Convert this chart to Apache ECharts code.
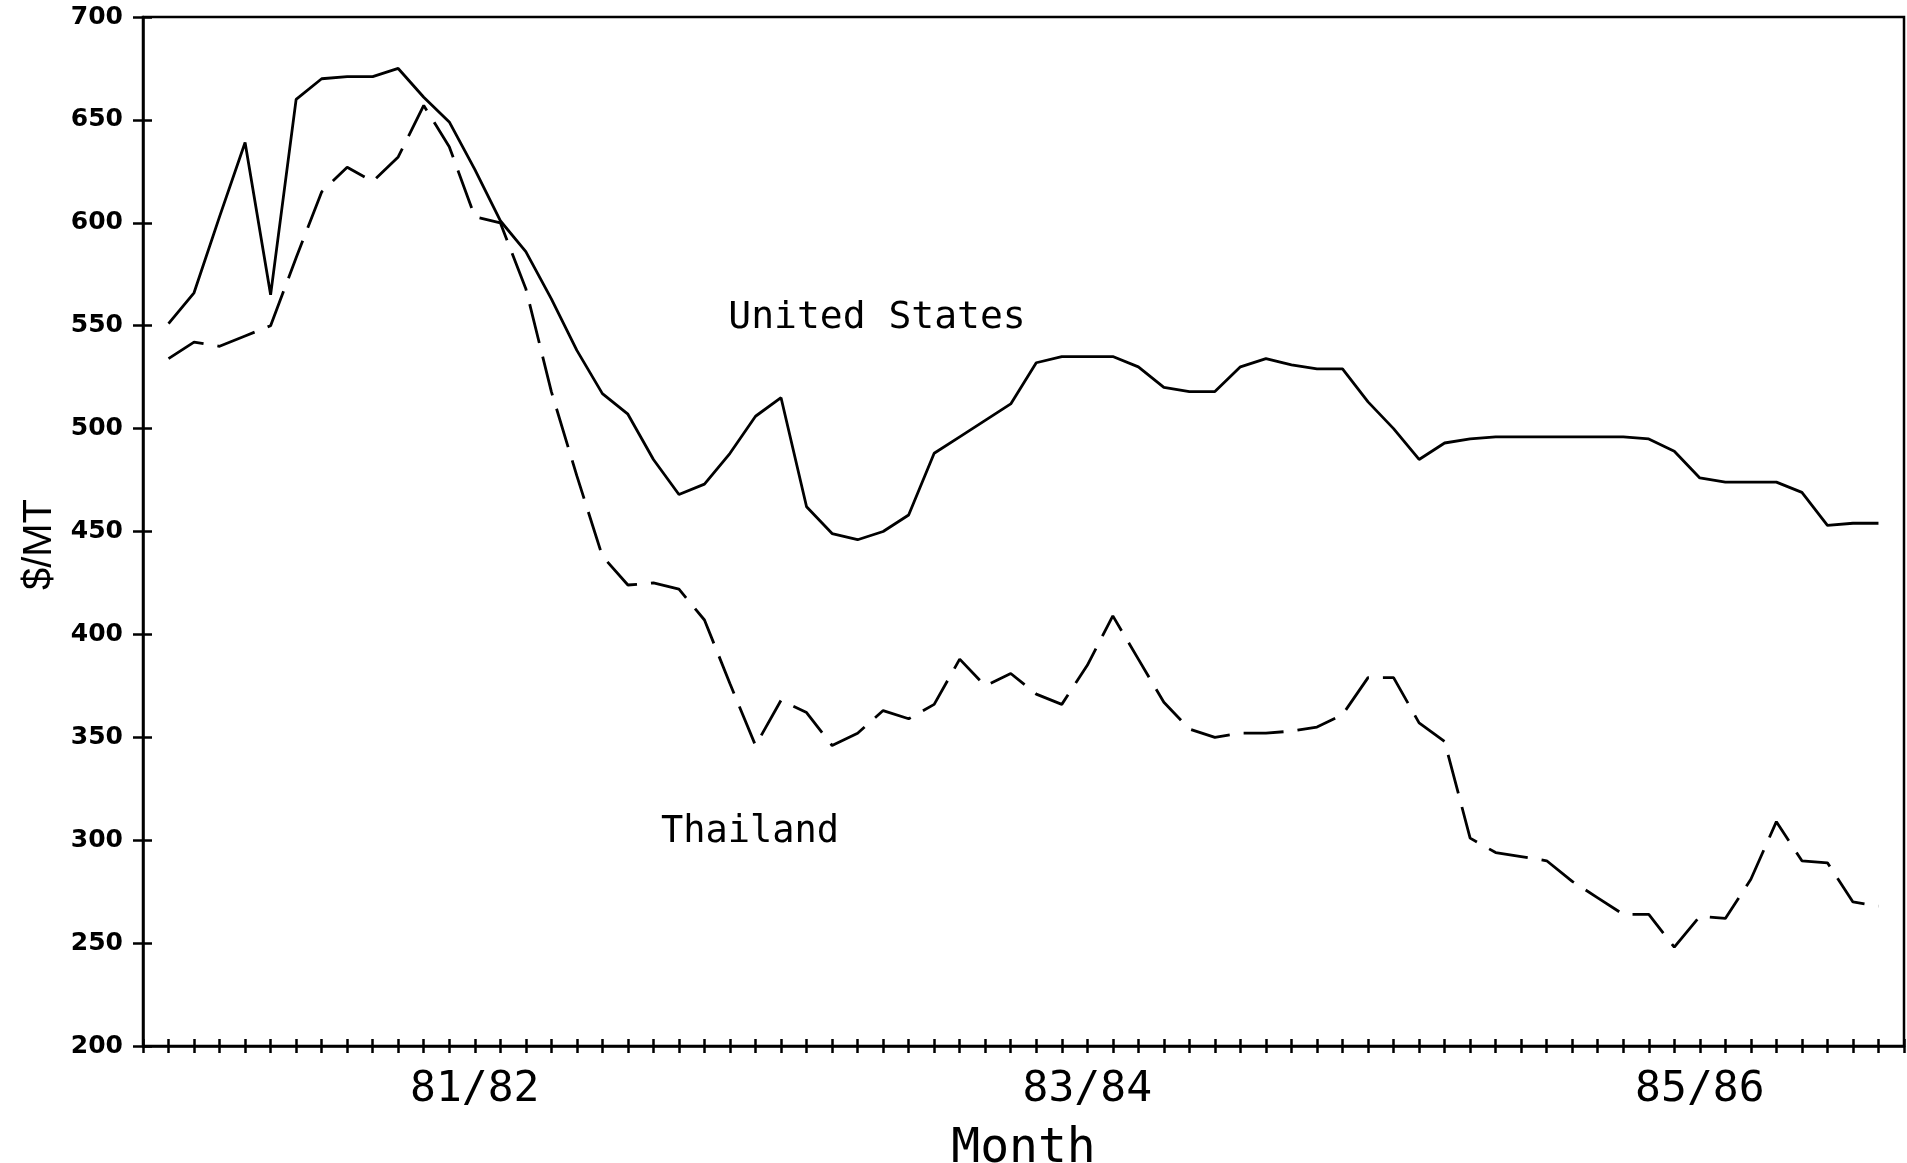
<!DOCTYPE html>
<html><head><meta charset="utf-8">
<script src="https://cdn.jsdelivr.net/npm/echarts@6/dist/echarts.min.js"></script>
<style>html,body{margin:0;padding:0;background:#fff}#c{width:1907px;height:1163px}</style>
</head><body><div id="c"></div>
<script>
// Months (monthly observations, Aug 1980 - Mar 1986)
const months = [
 'Aug 1980','Sep 1980','Oct 1980','Nov 1980','Dec 1980',
 'Jan 1981','Feb 1981','Mar 1981','Apr 1981','May 1981','Jun 1981','Jul 1981','Aug 1981','Sep 1981','Oct 1981','Nov 1981','Dec 1981',
 'Jan 1982','Feb 1982','Mar 1982','Apr 1982','May 1982','Jun 1982','Jul 1982','Aug 1982','Sep 1982','Oct 1982','Nov 1982','Dec 1982',
 'Jan 1983','Feb 1983','Mar 1983','Apr 1983','May 1983','Jun 1983','Jul 1983','Aug 1983','Sep 1983','Oct 1983','Nov 1983','Dec 1983',
 'Jan 1984','Feb 1984','Mar 1984','Apr 1984','May 1984','Jun 1984','Jul 1984','Aug 1984','Sep 1984','Oct 1984','Nov 1984','Dec 1984',
 'Jan 1985','Feb 1985','Mar 1985','Apr 1985','May 1985','Jun 1985','Jul 1985','Aug 1985','Sep 1985','Oct 1985','Nov 1985','Dec 1985',
 'Jan 1986','Feb 1986','Mar 1986'
];
// United States price, $/MT
const usPrice = [
 551,566,603,639,565,660,670,671,671,675,661,649,626,601,586,563,538,517,507,485,
 468,473,488,506,515,462,449,446,450,458,488,496,504,512,532,535,535,535,530,520,
 518,518,530,534,531,529,529,513,500,485,493,495,496,496,496,496,496,496,495,489,
 476,474,474,474,469,453,454,454
];
// Thailand price, $/MT
const thPrice = [
 534,542,540,545,550,583,615,627,620,632,657,637,603,600,568,518,477,438,424,425,
 422,407,376,346,368,362,346,352,363,359,366,388,375,381,371,366,385,409,388,367,
 354,350,352,352,353,355,361,379,379,357,348,301,294,292,290,280,272,264,264,248,
 263,262,281,309,290,289,270,268
];
// Marketing-year tick labels and the month they sit on
const yearLabelMonths = ['Aug 1981','Aug 1983','Aug 1985'];
const yearLabels = ['81/82','83/84','85/86'];
const yTicks = {min:200, max:700, step:50};

const labelAt = {};
yearLabelMonths.forEach((m,i)=>{ labelAt[months.indexOf(m)+1] = yearLabels[i]; });

const chart = echarts.init(document.getElementById('c'), null, {renderer:'canvas'});
const xCommon = {type:'value', min:0, max:months.length+1, interval:1, position:'bottom', splitLine:{show:false}};
const yCommon = {type:'value', min:yTicks.min, max:yTicks.max, interval:yTicks.step, position:'left', splitLine:{show:false}};
chart.setOption({
  animation:false,
  backgroundColor:'#ffffff',
  grid:{left:143, right:3, top:17, bottom:117, show:true, borderColor:'#000', borderWidth:2.5, containLabel:false, outerBoundsMode:'none'},
  xAxis:[
    Object.assign({}, xCommon, {
      name:'Month', nameLocation:'middle', nameGap:80,
      nameTextStyle:{fontFamily:'DejaVu Sans Mono', fontSize:48, color:'#000'},
      axisLine:{show:true, lineStyle:{color:'#000', width:2.5}},
      axisTick:{show:true, inside:false, length:7, lineStyle:{color:'#000', width:2.5}},
      axisLabel:{show:true, margin:22, interval:0, fontFamily:'DejaVu Sans Mono', fontSize:43, color:'#000',
        showMinLabel:true, showMaxLabel:true,
        formatter:v=>labelAt[v] || ''}
    }),
    Object.assign({}, xCommon, {
      axisLine:{show:false},
      axisTick:{show:true, inside:true, length:7, lineStyle:{color:'#000', width:2.5}},
      axisLabel:{show:false}
    })
  ],
  yAxis:[
    Object.assign({}, yCommon, {
      name:'$/MT', nameLocation:'middle', nameGap:80, nameRotate:90,
      nameTextStyle:{fontFamily:'Liberation Sans', fontSize:40, color:'#000', padding:[0,26,0,0]},
      axisLine:{show:true, lineStyle:{color:'#000', width:2.5}},
      axisTick:{show:true, inside:false, length:10, lineStyle:{color:'#000', width:2.5}},
      axisLabel:{show:true, margin:20, fontFamily:'DejaVu Sans', fontWeight:'bold', fontSize:25, color:'#000'}
    }),
    Object.assign({}, yCommon, {
      axisLine:{show:false},
      axisTick:{show:true, inside:true, length:9, lineStyle:{color:'#000', width:2.5}},
      axisLabel:{show:false}
    })
  ],
  series:[
    {name:'United States', type:'line', xAxisIndex:0, yAxisIndex:0, symbol:'none',
     lineStyle:{color:'#000', width:2.8, type:'solid'},
     data: usPrice.map((v,i)=>[i+1, v])},
    {name:'Thailand', type:'line', xAxisIndex:0, yAxisIndex:0, symbol:'none',
     lineStyle:{color:'#000', width:2.8, type:[40,14]},
     data: thPrice.map((v,i)=>[i+1, v])}
  ],
  graphic:[
    {type:'text', x:877, y:318, style:{text:'United States', fill:'#000', font:'38px "DejaVu Sans Mono"', textAlign:'center', textVerticalAlign:'middle'}},
    {type:'text', x:750, y:832, style:{text:'Thailand', fill:'#000', font:'37px "DejaVu Sans Mono"', textAlign:'center', textVerticalAlign:'middle'}}
  ]
});
</script>
</body></html>
